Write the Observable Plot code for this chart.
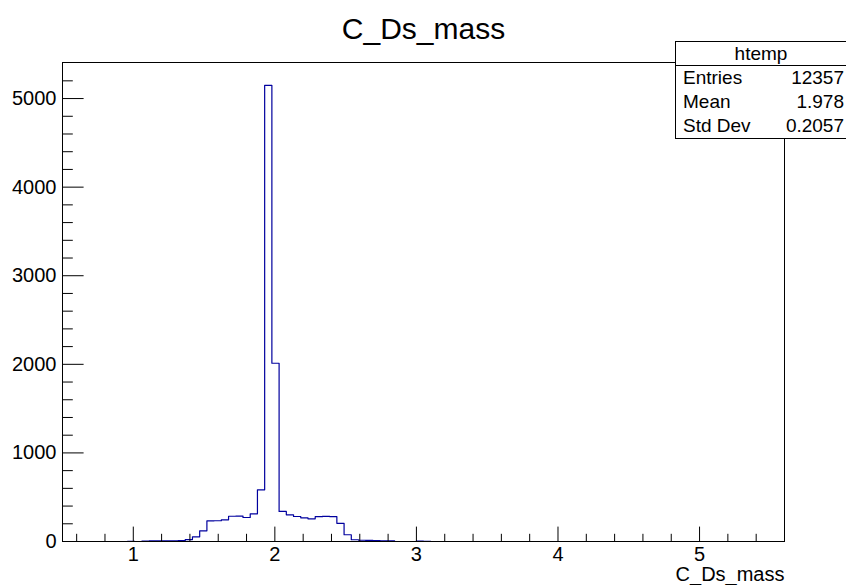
<!DOCTYPE html>
<html>
<head>
<meta charset="utf-8">
<script src="https://cdn.jsdelivr.net/npm/d3@7"></script>
<script src="https://cdn.jsdelivr.net/npm/@observablehq/plot@0.6"></script>
<style>
  body { margin: 0; background: #fff; font-family: "Liberation Sans", Arial, sans-serif; }
  #wrap { position: relative; width: 846px; height: 585px; }
  #wrap svg { overflow: visible; }
  #stats { position: absolute; left: 675px; top: 41px; width: 170px; height: 96px;
           border: 1px solid #000; background: #fff; font-size: 19px; color: #000; }
  #stats .hdr { height: 23px; line-height: 23px; text-align: center; border-bottom: 1px solid #000; }
  #stats .row { display: flex; justify-content: space-between; height: 24px; line-height: 24px;
                padding: 0 2px 0 7px; }
</style>
</head>
<body>
<div id="wrap"><div id="stats"></div></div>
<script>
// ---- data ----
const title = "C_Ds_mass";
const xTitle = "C_Ds_mass";
const histName = "htemp";
const statsLabels = ["Entries", "Mean", "Std Dev"];
const statsValues = ["12357", "1.978", "0.2057"];

const xLow = 0.5;       // lower edge of first bin
const xHigh = 5.6;      // upper edge of last bin
const binWidth = 0.051; // 100 bins
// counts per bin (100 bins)
const counts = [
  0, 0, 0, 0, 0, 0, 0, 0, 0, 3,
  0, 5, 6, 6, 7, 8, 9, 22, 53, 121,
  233, 234, 245, 285, 287, 271, 312, 583, 5149, 2012,
  339, 301, 282, 267, 256, 280, 283, 281, 205, 76,
  20, 14, 12, 10, 8, 6, 0, 0, 0, 4,
  3, 0, 0, 0, 0, 0, 0, 0, 0, 0,
  0, 0, 0, 0, 0, 0, 0, 0, 0, 0,
  0, 0, 0, 0, 0, 0, 0, 0, 0, 0,
  0, 0, 0, 0, 0, 0, 0, 0, 0, 0,
  0, 0, 0, 0, 0, 0, 0, 0, 0, 0
];
const yMax = 5407;

const xMajor = [1, 2, 3, 4, 5];
const xMinor = [0.6, 0.8, 1.2, 1.4, 1.6, 1.8, 2.2, 2.4, 2.6, 2.8, 3.2, 3.4, 3.6, 3.8, 4.2, 4.4, 4.6, 4.8, 5.2, 5.4];
const yMajor = [0, 1000, 2000, 3000, 4000, 5000];
const yMinor = [200, 400, 600, 800, 1200, 1400, 1600, 1800, 2200, 2400, 2600, 2800, 3200, 3400, 3600, 3800, 4200, 4400, 4600, 4800, 5200];

// ---- build step table ----
const steps = counts.map((c, i) => ({edge: xLow + i * binWidth, count: c}))
  .concat([{edge: xLow + counts.length * binWidth, count: counts[counts.length - 1]}]);

const W = 846, H = 585, mL = 62, mR = 62, mT = 62, mB = 44;
const fw = W - mL - mR, fh = H - mT - mB;
const font = "'Liberation Sans', Arial, sans-serif";

const chart = Plot.plot({
  width: W, height: H,
  marginLeft: mL, marginRight: mR, marginTop: mT, marginBottom: mB,
  style: {fontFamily: font, background: "white", color: "black"},
  x: {domain: [xLow, xHigh], label: null},
  y: {domain: [0, yMax], label: null},
  marks: [
    Plot.line(steps, {x: "edge", y: "count", curve: "step-after", stroke: "#00009e", strokeWidth: 1.2}),
    Plot.frame({stroke: "#000", strokeWidth: 1}),
    Plot.ruleX(xMajor, {x: d => d, insetTop: fh - 14.4, stroke: "#000"}),
    Plot.ruleX(xMinor, {x: d => d, insetTop: fh - 7.2, stroke: "#000"}),
    Plot.ruleY(yMajor, {y: d => d, insetRight: fw - 21.6, stroke: "#000"}),
    Plot.ruleY(yMinor, {y: d => d, insetRight: fw - 10.8, stroke: "#000"}),
    Plot.axisX(xMajor, {tickSize: 0, tickPadding: 5, fontSize: 20, label: null, fill: "#000", tickFormat: d => String(d)}),
    Plot.axisY(yMajor, {tickSize: 0, tickPadding: 6, fontSize: 20, label: null, fill: "#000", tickFormat: d => String(d)}),
    Plot.text([title], {frameAnchor: "top", lineAnchor: "middle", dy: -33, fontSize: 30, fill: "#000"}),
    Plot.text([xTitle], {frameAnchor: "bottom-right", lineAnchor: "middle", textAnchor: "end", dy: 33, fontSize: 20, fill: "#000"})
  ]
});
document.getElementById("wrap").prepend(chart);

// stats box
const stats = document.getElementById("stats");
const hdr = document.createElement("div");
hdr.className = "hdr";
hdr.textContent = histName;
stats.appendChild(hdr);
statsLabels.forEach((lab, i) => {
  const row = document.createElement("div");
  row.className = "row";
  const a = document.createElement("span"); a.textContent = lab;
  const b = document.createElement("span"); b.textContent = statsValues[i];
  row.append(a, b);
  stats.appendChild(row);
});
</script>
</body>
</html>
